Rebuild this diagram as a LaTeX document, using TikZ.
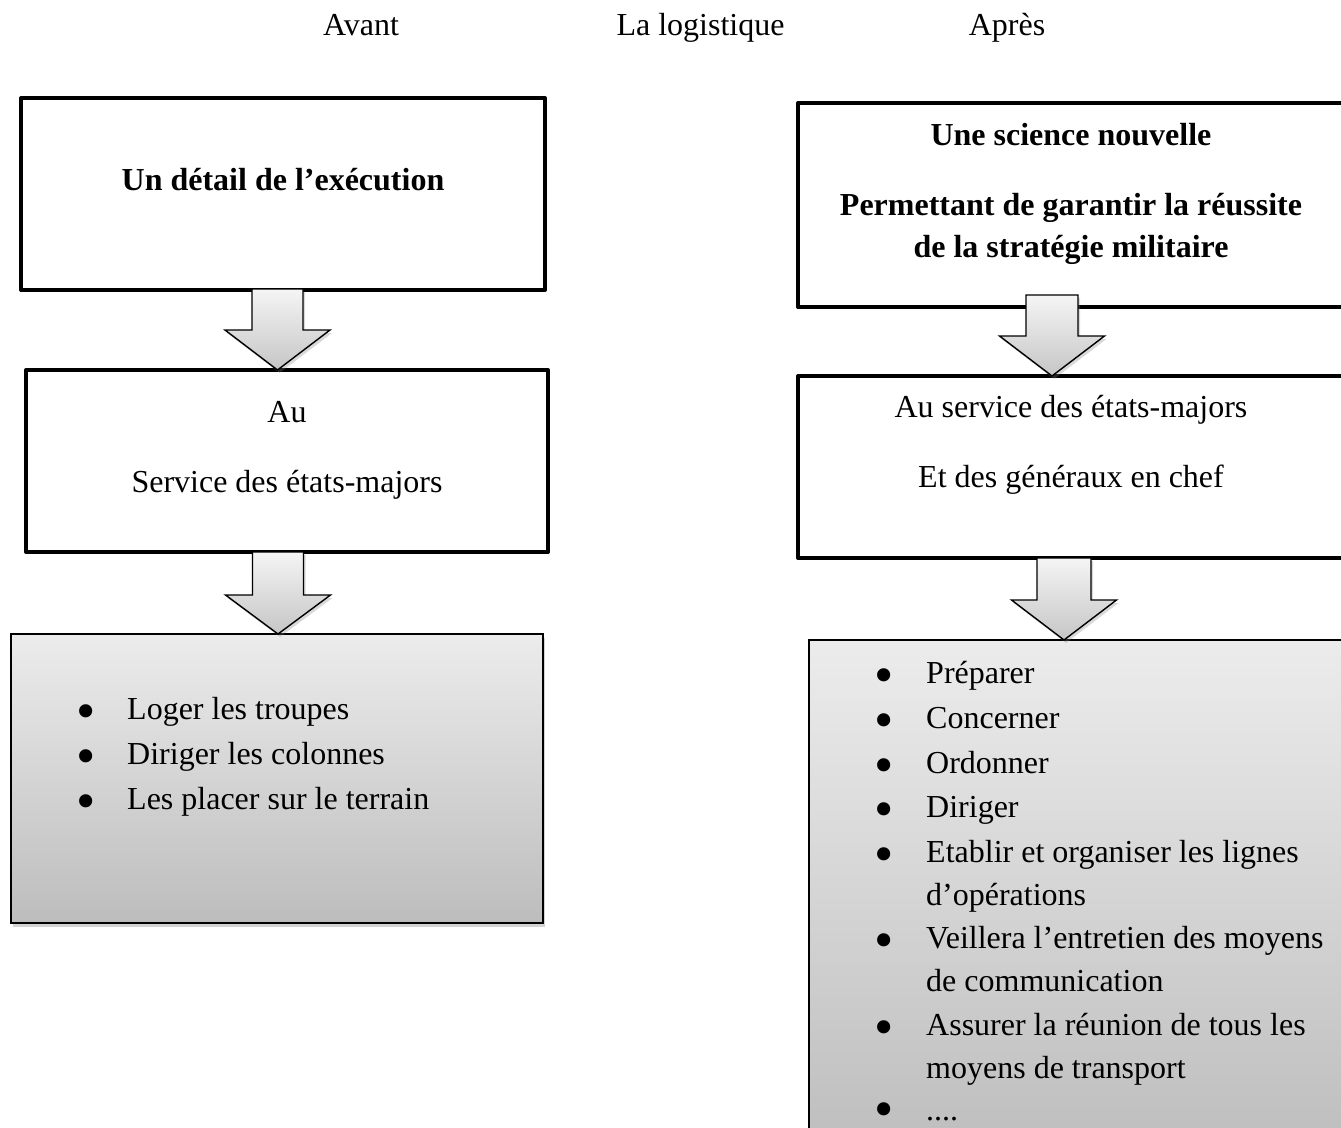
\documentclass[tikz,border=0pt]{standalone}
\usepackage{fontspec}
\setmainfont{Liberation Serif}
\usetikzlibrary{shadows,calc}
\newcommand\flowarrow[7]{% #1 x, #2 from, #3 to, #4 shaft half, #5 head half, #6 head length, #7 overlap
  \draw[flowarr] ($(#1,0 |- #2.south)+(-#4,-#7)$) -- ($(#1,0 |- #2.south)+(#4,-#7)$)
    -- ($(#1,0 |- #3.north)+(#4,-#6)$) -- ($(#1,0 |- #3.north)+(#5,-#6)$)
    -- (#1,0 |- #3.north)
    -- ($(#1,0 |- #3.north)+(-#5,-#6)$) -- ($(#1,0 |- #3.north)+(-#4,-#6)$) -- cycle;}
\tikzset{
  thickbox/.style={draw=black, line width=4pt, line join=round, fill=white,
    inner sep=0pt, outer sep=0pt, anchor=north west},
  gradbox/.style={draw=black, line width=1.6pt, top color=gray!15, bottom color=gray!52,
    inner sep=0pt, outer sep=0pt, anchor=north west,
    drop shadow={shadow xshift=1.5pt, shadow yshift=-4pt, opacity=0.35}},
  flowarr/.style={draw=black, line width=1.4pt, line join=miter, top color=gray!8, bottom color=gray!45,
    drop shadow={shadow xshift=2pt, shadow yshift=-3pt, opacity=0.3}},
  txt/.style={anchor=base, inner sep=0pt, font=\fontsize{32}{38}\selectfont},
  btxt/.style={txt, font=\fontsize{32}{38}\selectfont\bfseries},
  ltxt/.style={txt, anchor=base west},
  bul/.style={anchor=base, inner sep=0pt, font=\fontsize{55}{55}\selectfont}
}
\begin{document}
\begin{tikzpicture}[x=1pt, y=-1pt]
\useasboundingbox (0,0) rectangle (1341,1127);
\clip (0,0) rectangle (1341,1127);

% titles
\node[txt] (tAvant) at (361,35) {Avant};
\node[txt] (tLog) at (700.5,35) {La logistique};
\node[txt] (tApres) at (1007,35) {Après};

% boxes
\node[thickbox, minimum width=524, minimum height=192] (L1) at (21,98) {};
\node[thickbox, minimum width=522, minimum height=182] (L2) at (26,370) {};
\node[gradbox, minimum width=532, minimum height=289] (L3) at (11,634) {};
\node[thickbox, minimum width=544.5, minimum height=204] (R1) at (798,103) {};
\node[thickbox, minimum width=544.5, minimum height=182] (R2) at (798,376) {};
\node[gradbox, minimum width=545, minimum height=520] (R3) at (809,640) {};

% arrows
\flowarrow{277.5}{L1}{L2}{25.5}{52.5}{40}{1}
\flowarrow{278}{L2}{L3}{25.5}{52.5}{39}{0}
\flowarrow{1052}{R1}{R2}{26}{52.5}{40}{12}
\flowarrow{1064}{R2}{R3}{27}{52.5}{40}{0}

% left texts
\node[btxt] (l1t) at (283,190) {Un détail de l’exécution};
\node[txt] (l2a) at (287,422) {Au};
\node[txt] (l2b) at (287,492) {Service des états-majors};

\node[bul] (lb1) at (86,729) {\textbullet};
\node[bul] (lb2) at (86,774) {\textbullet};
\node[bul] (lb3) at (86,819) {\textbullet};
\node[ltxt] (li1) at (127,719) {Loger les troupes};
\node[ltxt] (li2) at (127,764) {Diriger les colonnes};
\node[ltxt] (li3) at (127,809) {Les placer sur le terrain};

% right texts
\node[btxt] (r1a) at (1071,145) {Une science nouvelle};
\node[btxt] (r1b) at (1071,215) {Permettant de garantir la réussite};
\node[btxt] (r1c) at (1071,257) {de la stratégie militaire};
\node[txt] (r2a) at (1071,417) {Au service des états-majors};
\node[txt] (r2b) at (1071,487) {Et des généraux en chef};

\node[bul] (rb1) at (884,693) {\textbullet};
\node[bul] (rb2) at (884,738) {\textbullet};
\node[bul] (rb3) at (884,783) {\textbullet};
\node[bul] (rb4) at (884,827) {\textbullet};
\node[bul] (rb5) at (884,872) {\textbullet};
\node[bul] (rb6) at (884,958) {\textbullet};
\node[bul] (rb7) at (884,1045) {\textbullet};
\node[bul] (rb8) at (884,1127) {\textbullet};
\node[ltxt] (ri1) at (926,683) {Préparer};
\node[ltxt] (ri2) at (926,728) {Concerner};
\node[ltxt] (ri3) at (926,773) {Ordonner};
\node[ltxt] (ri4) at (926,817) {Diriger};
\node[ltxt] (ri5) at (926,862) {Etablir et organiser les lignes};
\node[ltxt] (ri5b) at (926,905) {d’opérations};
\node[ltxt] (ri6) at (926,948) {Veillera l’entretien des moyens};
\node[ltxt] (ri6b) at (926,991) {de communication};
\node[ltxt] (ri7) at (926,1035) {Assurer la réunion de tous les};
\node[ltxt] (ri7b) at (926,1078) {moyens de transport};
\node[ltxt] (ri8) at (926,1120) {....};
\end{tikzpicture}
\end{document}
